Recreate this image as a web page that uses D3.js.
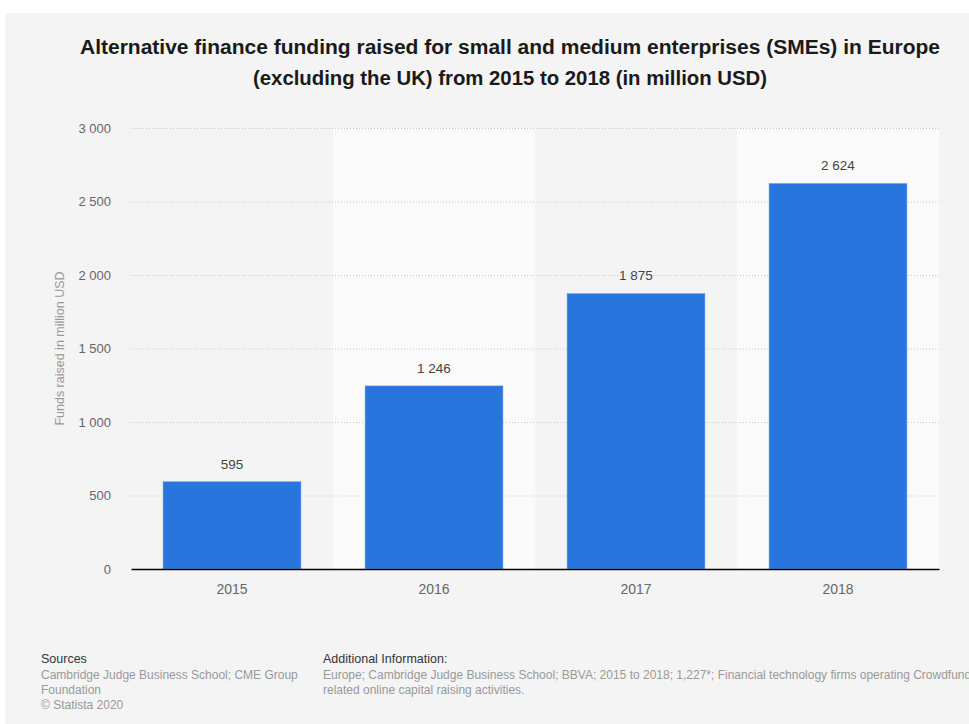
<!DOCTYPE html>
<html>
<head>
<meta charset="utf-8">
<script src="https://cdn.jsdelivr.net/npm/d3@7/dist/d3.min.js"></script>
<style>
  html, body { margin: 0; padding: 0; background: #ffffff; }
  svg { display: block; }
</style>
</head>
<body>
<script>
const categories = ["2015", "2016", "2017", "2018"];
const values = [595, 1246, 1875, 2624];
const yTicks = [0, 500, 1000, 1500, 2000, 2500, 3000];
const titleLines = [
  "Alternative finance funding raised for small and medium enterprises (SMEs) in Europe",
  "(excluding the UK) from 2015 to 2018 (in million USD)"
];
const yAxisTitle = "Funds raised in million USD";

(function () {
const W = 969, H = 724;
const svg = d3.select("body").append("svg").attr("width", W).attr("height", H);
const font = "'Liberation Sans', Arial, Helvetica, sans-serif";

svg.append("rect").attr("x", 5).attr("y", 13).attr("width", W - 5).attr("height", H - 13).attr("fill", "#f4f4f4");

const titleWidths = [860, 514];
svg.append("g").selectAll("text").data(titleLines).join("text")
  .attr("x", 510).attr("y", (d, i) => 54 + i * 31)
  .attr("text-anchor", "middle")
  .attr("font-family", font).attr("font-weight", "bold").attr("font-size", 19.5)
  .attr("textLength", (d, i) => titleWidths[i]).attr("lengthAdjust", "spacingAndGlyphs")
  .attr("fill", "#1a1a1a")
  .text(d => d);

const pLeft = 131, pRight = 939, pTop = 128, pBottom = 569;
const x = d3.scaleBand().domain(categories).range([pLeft, pRight]).paddingInner(0.317).paddingOuter(0.1585);
const xBand = d3.scaleBand().domain(categories).range([pLeft, pRight]).padding(0);
const y = d3.scaleLinear().domain([0, 3000]).range([pBottom, pTop]);

// alternating bands
svg.append("g").selectAll("rect").data(categories.filter((d, i) => i % 2 === 1)).join("rect")
  .attr("x", d => xBand(d)).attr("y", pTop).attr("width", xBand.bandwidth()).attr("height", pBottom - pTop)
  .attr("fill", "#fafafa");

// grid
svg.append("g").selectAll("line").data(yTicks.filter(d => d > 0)).join("line")
  .attr("x1", pLeft).attr("x2", pRight).attr("y1", d => y(d) + 0.5).attr("y2", d => y(d) + 0.5)
  .attr("stroke", "#c8c8c8").attr("stroke-width", 1).attr("stroke-dasharray", "1,2");

// y axis
const yAxis = svg.append("g").attr("transform", `translate(${pLeft},0)`)
  .call(d3.axisLeft(y).tickValues(yTicks).tickSize(0).tickPadding(20)
    .tickFormat(d => d3.format(",")(d).replace(/,/g, " ")));
yAxis.select(".domain").remove();
yAxis.selectAll("text").attr("font-family", font).attr("font-size", 13).attr("fill", "#666");

svg.append("text")
  .attr("transform", `translate(64,${(pTop + pBottom) / 2}) rotate(-90)`)
  .attr("text-anchor", "middle")
  .attr("font-family", font).attr("font-size", 12.5).attr("fill", "#999")
  .text(yAxisTitle);

// bars
svg.append("g").selectAll("rect").data(values).join("rect")
  .attr("x", (d, i) => x(categories[i])).attr("y", d => y(d))
  .attr("width", x.bandwidth()).attr("height", d => pBottom - y(d))
  .attr("fill", "#2876dd").attr("stroke", "#8db8ee").attr("stroke-width", 0.6);

// value labels
svg.append("g").selectAll("text").data(values).join("text")
  .attr("x", (d, i) => x(categories[i]) + x.bandwidth() / 2).attr("y", d => y(d) - 13)
  .attr("text-anchor", "middle")
  .attr("font-family", font).attr("font-size", 13.5).attr("fill", "#444")
  .text(d => d3.format(",")(d).replace(/,/g, " "));

// x axis
const xAxis = svg.append("g").attr("transform", `translate(0,${pBottom})`)
  .call(d3.axisBottom(xBand).tickSize(0).tickPadding(15));
xAxis.select(".domain").attr("stroke", "#000").attr("stroke-width", 1.3);
xAxis.selectAll("text").attr("font-family", font).attr("font-size", 14).attr("fill", "#666");

// footer
const foot = svg.append("g").attr("font-family", font);
foot.append("text").attr("x", 41).attr("y", 663).attr("font-size", 12.5).attr("fill", "#333").text("Sources");
const srcLines = ["Cambridge Judge Business School; CME Group", "Foundation", "© Statista 2020"];
foot.selectAll(".src").data(srcLines).join("text").attr("class", "src")
  .attr("x", 41).attr("y", (d, i) => 679 + i * 15).attr("font-size", 12).attr("fill", "#999").text(d => d);
foot.append("text").attr("x", 323).attr("y", 663).attr("font-size", 12.5).attr("fill", "#333").text("Additional Information:");
const addLines = ["Europe; Cambridge Judge Business School; BBVA; 2015 to 2018; 1,227*; Financial technology firms operating Crowdfunding and", "related online capital raising activities."];
foot.selectAll(".add").data(addLines).join("text").attr("class", "add")
  .attr("x", 323).attr("y", (d, i) => 679 + i * 15).attr("font-size", 12).attr("fill", "#999").text(d => d);
})();
</script>
</body>
</html>
